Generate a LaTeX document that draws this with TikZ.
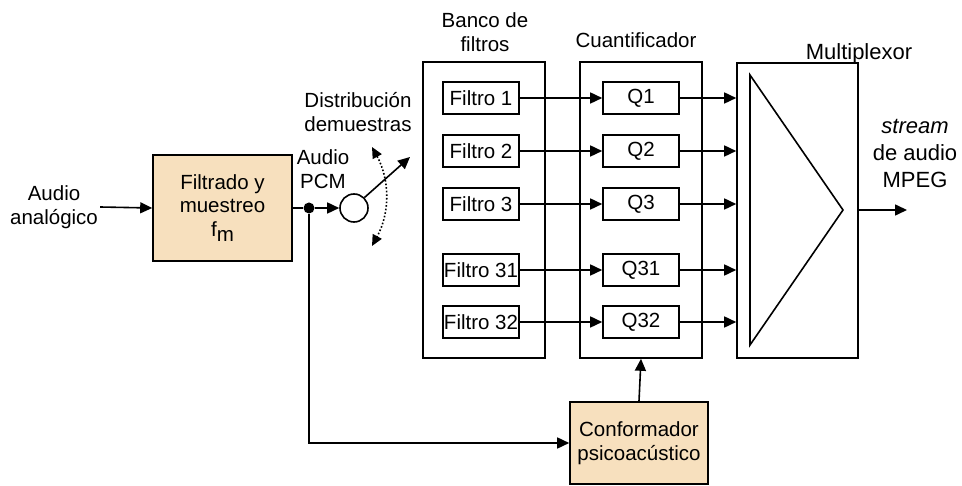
\documentclass[tikz,border=0pt]{standalone}
\usepackage{fontspec}
\setmainfont{Liberation Sans}
\usetikzlibrary{arrows.meta}
\definecolor{beige}{RGB}{247,224,190}

\tikzset{
  box/.style={draw, line width=1.6pt, inner sep=0pt, align=center},
  filtbox/.style={box, minimum width=76pt, minimum height=32pt},
  tanbox/.style={box, fill=beige},
  bigbox/.style={box, minimum width=122pt, minimum height=296pt},
  flow/.style={line width=1.6pt, -{Triangle[length=12pt,width=11pt]}},
  lbl/.style={align=center, inner sep=0pt},
}

\begin{document}
\begin{tikzpicture}[x=1pt,y=-1pt,font=\fontsize{20.5}{23.5}\selectfont]
\useasboundingbox (0,0) rectangle (962,486);

% entrada
\node[lbl, inner sep=2pt] (in) at (54,207) {Audio\\analógico};
\node[tanbox, minimum width=139pt, minimum height=106pt] (fs) at (222.5,208)
  {Filtrado y\\muestreo\\f\raisebox{-5pt}{m}};
\draw[flow] (in.east) -- (fs.west);

% conmutador
\node[circle, fill, inner sep=0pt, minimum size=11pt] (dot) at (309,208) {};
\node[circle, draw, line width=1.6pt, inner sep=0pt, minimum size=28pt] (sw) at (354,208) {};
\coordinate (swtip) at (410,157);
\coordinate (arcA) at (372,147);
\coordinate (arcB) at (372,246);
\draw[line width=1.6pt] (fs.east) -- (dot);
\draw[flow] (dot) -- (sw.west);
\draw[flow] (sw.45) -- (swtip);
\draw[dotted, line width=1.6pt, {Triangle[length=11pt,width=10pt]}-{Triangle[length=11pt,width=10pt]}]
  (arcA) .. controls (390,180) and (390,213) .. (arcB);
\node[lbl] (pcm) at (323,169) {Audio\\PCM};
\node[lbl] (dist) at (358,112) {Distribución\\demuestras};

% bloques
\node[bigbox] (banco) at (484,210) {};
\node[bigbox] (cuant) at (641,210) {};
\node[box, minimum width=121pt, minimum height=295pt] (mux) at (797.5,210.5) {};
\node[lbl] (lbanco) at (485,32) {Banco de\\filtros};
\node[lbl] (lcuant) at (636,40) {Cuantificador};
\node[lbl, font=\fontsize{22}{26}\selectfont] (lmux) at (859,54) {Multiplexor};

\foreach \n/\y in {1/98,2/151,3/204,31/270,32/322} {
  \node[filtbox] (f\n) at (481,\y) {Filtro \n};
  \node[filtbox] (q\n) at (641,\y) {Q\n};
  \coordinate (m\n) at (mux.west |- q\n);
  \draw[flow] (f\n) -- (q\n);
  \draw[flow] (q\n) -- (m\n);
}

% multiplexor
\coordinate (tA) at (750,75);
\coordinate (tB) at (750,345);
\coordinate (tC) at (843,210);
\draw[line width=1.6pt] (tA) -- (tC) -- (tB) -- cycle;
\coordinate (out) at (907,210);
\draw[flow] (mux.east |- tC) -- (out);
\node[lbl, font=\fontsize{22}{27}\selectfont] (strm) at (915,153) {\textit{stream}\\de audio\\MPEG};

% conformador
\node[tanbox, minimum width=138pt, minimum height=82pt] (conf) at (639,443)
  {Conformador\\psicoacústico};
\draw[flow] (dot) |- (conf.west);
\draw[flow] (conf.north) -- (cuant.south);
\end{tikzpicture}
\end{document}
